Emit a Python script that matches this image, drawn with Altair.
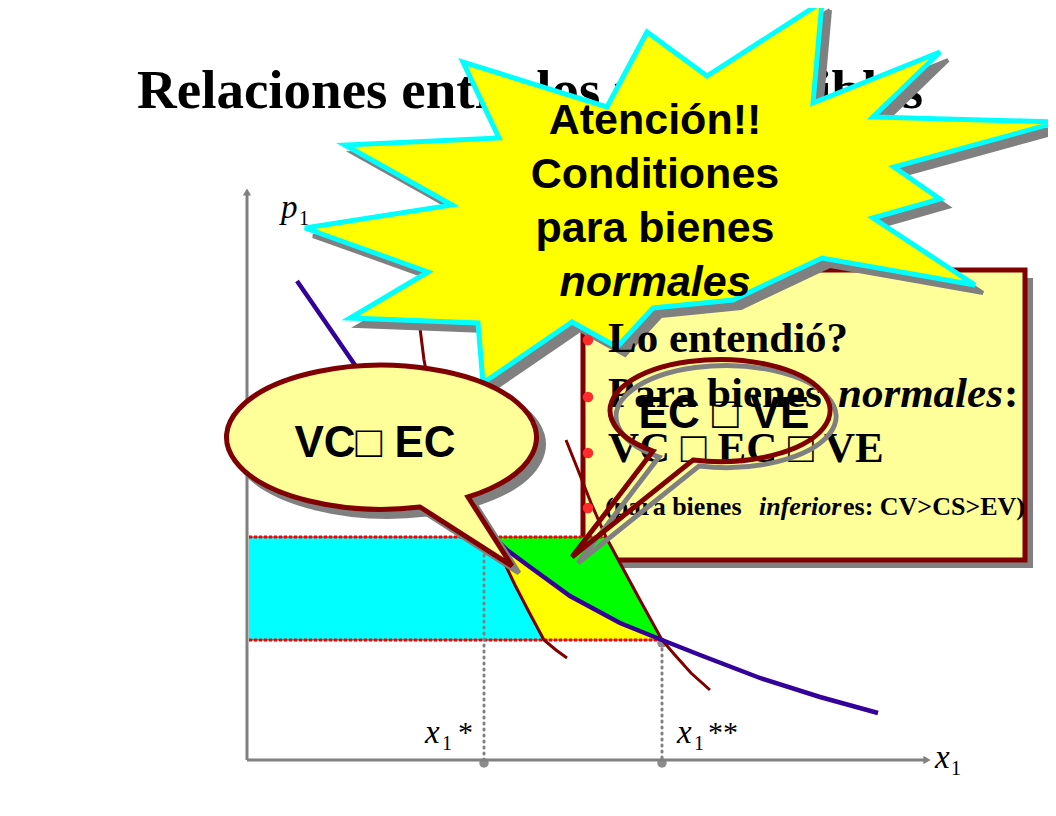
import altair as alt
import pandas as pd

# ---------------- data (diagram units = slide units) ----------------
TITLE = "Relaciones entre los tres medibles"

P_HIGH = 537          # initial price level
P_LOW = 640           # final price level
X1_STAR = 484         # x1*
X1_2STAR = 662        # x1**
AXIS_X0 = 247
AXIS_Y0 = 760
AXIS_TOP = 194
AXIS_RIGHT = 924

# ordinary demand curve
DEM_X = [297, 315, 335, 357, 392, 427, 462, 494, 507, 530, 570, 620, 662, 700, 760, 820, 878]
DEM_Y = [281, 307, 336, 368, 412, 456, 498, 537, 550, 567, 596, 623, 640, 655, 678, 697, 713]
# Hicksian demand at the initial utility
HA_X = [416, 419, 424, 432, 444, 459, 476, 492, 503, 515, 529, 544, 556, 567]
HA_Y = [290, 320, 360, 400, 440, 480, 512, 537, 560, 585, 612, 640, 650, 658]
# Hicksian demand at the final utility
HB_X = [566, 578, 591, 606, 620, 640, 662, 674, 691, 710]
HB_Y = [440, 470, 503, 537, 563, 600, 640, 654, 673, 690]

# starburst outline
STAR_X = [822, 813, 940, 873, 1058, 894, 940, 873, 975, 822, 733, 653, 617, 572, 483, 478, 350, 428, 305, 452, 345, 499, 463, 607, 647, 707]
STAR_Y = [2, 103, 52, 117, 122, 167, 199, 218, 285, 258, 300, 308, 347, 322, 383, 323, 318, 272, 228, 205, 145, 138, 62, 107, 32, 76]
STAR_LINES = ["Atención!!", "Conditiones", "para bienes", "normales"]
STAR_LINE_Y = [134, 188, 242, 296]
STAR_CX = 655

# text box
BOX = dict(x=583, x2=1025, y=270, y2=560)
BULLET_X = [588, 588, 588, 588]
BULLET_Y = [340, 397, 453, 508]
BOX_BIG_TEXT = ["Lo entendió?", "Para bienes", ":", "VC \u25a1 EC \u25a1 VE"]
BOX_BIG_X = [608, 608, 1004, 608]
BOX_BIG_Y = [352, 407, 407, 462]
BOX_BIG_ITAL = ["normales"]
BOX_BIG_ITAL_X = [838]
BOX_BIG_ITAL_Y = [407]
BOX_SMALL_TEXT = ["(para bienes", "es: CV>CS>EV)"]
BOX_SMALL_X = [605, 843]
BOX_SMALL_Y = [515, 515]
BOX_SMALL_ITAL = ["inferior"]
BOX_SMALL_ITAL_X = [759]
BOX_SMALL_ITAL_Y = [515]

# callouts
CALL1_C = (378, 440)
CALL1_TEXT = "VC\u25a1 EC"
CALL1_TXT_POS = (375, 457)
CALL2_C = (723, 411)
CALL2_TEXT = "EC \u25a1 VE"
CALL2_TXT_POS = (724, 428)

# axis labels: main glyph, subscript, stars
LBL_MAIN = ["p", "x", "x", "x"]
LBL_MAIN_X = [281, 935, 425, 677]
LBL_MAIN_Y = [218, 768, 743, 743]
LBL_SUB = ["1", "1", "1", "1"]
LBL_SUB_X = [299, 951, 442, 694]
LBL_SUB_Y = [225, 775, 750, 750]
LBL_STAR = ["*", "**"]
LBL_STAR_X = [458, 708]
LBL_STAR_Y = [742, 742]

# ---------------- helpers ----------------
XS = alt.Scale(domain=[8, 1048], nice=False, zero=False)
YS = alt.Scale(domain=[8, 800], nice=False, zero=False, reverse=True)
X = alt.X("x:Q", scale=XS, axis=None)
Y = alt.Y("y:Q", scale=YS, axis=None)

SERIF = "Liberation Serif"
SANS = "Liberation Sans"
MAROON = "#800000"
GRAY = "#808080"


def path_layer(xs, ys, close=False, dx=0, dy=0, **mk):
    xs = list(xs)
    ys = list(ys)
    if close:
        xs = xs + [xs[0]]
        ys = ys + [ys[0]]
    df = pd.DataFrame({"x": [v + dx for v in xs], "y": [v + dy for v in ys], "i": range(len(xs))})
    return alt.Chart(df).mark_line(**mk).encode(x=X, y=Y, order="i:Q")


def text_layer(xs, ys, texts, **mk):
    df = pd.DataFrame({"x": xs, "y": ys, "t": texts})
    base = dict(baseline="alphabetic", align="left", color="black")
    base.update(mk)
    return alt.Chart(df).mark_text(**base).encode(x=X, y=Y, text="t:N")


def sub_between(xs, ys, y0, y1):
    pts = [(a, b) for a, b in zip(xs, ys) if y0 <= b <= y1]
    return [p[0] for p in pts], [p[1] for p in pts]


layers = []

# box shadow + box
box_sh = pd.DataFrame({"x": [BOX["x"] + 8], "x2": [BOX["x2"] + 8], "y": [BOX["y"] + 8], "y2": [BOX["y2"] + 8]})
layers.append(alt.Chart(box_sh).mark_rect(fill=GRAY).encode(x=X, x2="x2:Q", y=Y, y2="y2:Q"))
box_df = pd.DataFrame({k: [v] for k, v in BOX.items()})
layers.append(alt.Chart(box_df).mark_rect(fill="#FFFF99", stroke=MAROON, strokeWidth=5)
              .encode(x=X, x2="x2:Q", y=Y, y2="y2:Q"))

# regions
ha_x, ha_y = sub_between(HA_X, HA_Y, P_HIGH, P_LOW)
dm_x, dm_y = sub_between(DEM_X, DEM_Y, P_HIGH, P_LOW)
hb_x, hb_y = sub_between(HB_X, HB_Y, P_HIGH, P_LOW)

cyan_x = [AXIS_X0 + 2] + ha_x + [AXIS_X0 + 2]
cyan_y = [P_HIGH] + ha_y + [P_LOW]
layers.append(path_layer(cyan_x, cyan_y, close=True, fill="#00FFFF", stroke=None, strokeWidth=0))

yel_x = dm_x + ha_x[::-1]
yel_y = dm_y + ha_y[::-1]
layers.append(path_layer(yel_x, yel_y, close=True, fill="#FFFF00", stroke=None, strokeWidth=0))

grn_x = hb_x + dm_x[::-1]
grn_y = hb_y + dm_y[::-1]
layers.append(path_layer(grn_x, grn_y, close=True, fill="#00FF00", stroke=None, strokeWidth=0))

# price lines (dotted red)
for py, xe in [(P_HIGH, hb_x[0]), (P_LOW, X1_2STAR)]:
    layers.append(path_layer([AXIS_X0 + 2, xe], [py, py], stroke="#990000", strokeWidth=1))
    layers.append(path_layer([AXIS_X0 + 2, xe], [py, py], stroke="#FF0000", strokeWidth=3, strokeDash=[3, 2]))

# gray dotted verticals and dots
layers.append(path_layer([X1_STAR, X1_STAR], [P_HIGH, AXIS_Y0 + 3], stroke=GRAY, strokeWidth=3,
                         strokeDash=[1, 5], strokeCap="round"))
layers.append(path_layer([X1_2STAR, X1_2STAR], [P_LOW + 3, AXIS_Y0 + 3], stroke=GRAY, strokeWidth=3,
                         strokeDash=[1, 5], strokeCap="round"))
dots = pd.DataFrame({"x": [X1_STAR, X1_2STAR, X1_2STAR], "y": [AXIS_Y0 + 3, AXIS_Y0 + 3, P_LOW + 3]})
layers.append(alt.Chart(dots).mark_circle(size=90, color="#8c8c8c", opacity=1).encode(x=X, y=Y))

# axes
layers.append(path_layer([AXIS_X0, AXIS_X0], [AXIS_Y0, AXIS_TOP], stroke=GRAY, strokeWidth=3))
layers.append(path_layer([AXIS_X0, AXIS_RIGHT], [AXIS_Y0, AXIS_Y0], stroke=GRAY, strokeWidth=3))
layers.append(alt.Chart(pd.DataFrame({"x": [AXIS_X0], "y": [AXIS_TOP - 2]}))
              .mark_point(shape="triangle-up", size=70, filled=True, color=GRAY, opacity=1).encode(x=X, y=Y))
layers.append(alt.Chart(pd.DataFrame({"x": [AXIS_RIGHT + 3], "y": [AXIS_Y0]}))
              .mark_point(shape="triangle-right", size=70, filled=True, color=GRAY, opacity=1).encode(x=X, y=Y))

# curves
layers.append(path_layer(HA_X, HA_Y, stroke=MAROON, strokeWidth=3))
layers.append(path_layer(HB_X, HB_Y, stroke=MAROON, strokeWidth=3))
layers.append(path_layer(DEM_X, DEM_Y, stroke="#330099", strokeWidth=4.5))

# axis labels
layers.append(text_layer(LBL_MAIN_X, LBL_MAIN_Y, LBL_MAIN, font=SERIF, fontSize=33, fontStyle="italic"))
layers.append(text_layer(LBL_SUB_X, LBL_SUB_Y, LBL_SUB, font=SERIF, fontSize=20))
layers.append(text_layer(LBL_STAR_X, LBL_STAR_Y, LBL_STAR, font=SERIF, fontSize=30))

# title
layers.append(text_layer([137], [108], [TITLE], font=SERIF, fontSize=55, fontWeight="bold"))

# starburst
layers.append(path_layer(STAR_X, STAR_Y, close=True, dx=8, dy=8, fill=GRAY, stroke=GRAY, strokeWidth=4,
                         strokeJoin="miter", clip=True))
layers.append(path_layer(STAR_X, STAR_Y, close=True, fill="#FFFF00", stroke="#00FFFF", strokeWidth=5,
                         strokeJoin="miter", clip=True))

# box text + bullets
layers.append(alt.Chart(pd.DataFrame({"x": BULLET_X, "y": BULLET_Y}))
              .mark_circle(size=110, color="#FF2B2B", opacity=1).encode(x=X, y=Y))
layers.append(text_layer(BOX_BIG_X, BOX_BIG_Y, BOX_BIG_TEXT, font=SERIF, fontSize=43, fontWeight="bold"))
layers.append(text_layer(BOX_BIG_ITAL_X, BOX_BIG_ITAL_Y, BOX_BIG_ITAL, font=SERIF, fontSize=43,
                         fontWeight="bold", fontStyle="italic"))
layers.append(text_layer(BOX_SMALL_X, BOX_SMALL_Y, BOX_SMALL_TEXT, font=SERIF, fontSize=26, fontWeight="bold"))
layers.append(text_layer(BOX_SMALL_ITAL_X, BOX_SMALL_ITAL_Y, BOX_SMALL_ITAL, font=SERIF, fontSize=26,
                         fontWeight="bold", fontStyle="italic"))

# star text
layers.append(text_layer([STAR_CX] * 3, STAR_LINE_Y[:3], STAR_LINES[:3], font=SANS, fontSize=43,
                         fontWeight="bold", align="center"))
layers.append(text_layer([STAR_CX], STAR_LINE_Y[3:], STAR_LINES[3:], font=SANS, fontSize=43,
                         fontWeight="bold", fontStyle="italic", align="center"))

# callout 1 (filled ellipse with tail)
CALL1_SHAPE = "M 90 57 A 155 72 0 1 0 42 67 L 134 126 Z"
c1 = pd.DataFrame({"x": [CALL1_C[0]], "y": [CALL1_C[1]]})
c1s = pd.DataFrame({"x": [CALL1_C[0] + 7], "y": [CALL1_C[1] + 7]})
layers.append(alt.Chart(c1s).mark_point(shape=CALL1_SHAPE, size=4, fill=GRAY, stroke=GRAY, strokeWidth=5,
                                        opacity=1).encode(x=X, y=Y))
layers.append(alt.Chart(c1).mark_point(shape=CALL1_SHAPE, size=4, fill="#FFFF99", stroke=MAROON, strokeWidth=5,
                                       opacity=1, strokeJoin="miter").encode(x=X, y=Y))
layers.append(text_layer([CALL1_TXT_POS[0]], [CALL1_TXT_POS[1]], [CALL1_TEXT], font=SANS, fontSize=44,
                         fontWeight="bold", align="center"))

# callout 2 (outline only)
CALL2_SHAPE = "M -30 49 A 110 51 0 1 0 -70 40 L -151 146 Z"
c2 = pd.DataFrame({"x": [CALL2_C[0]], "y": [CALL2_C[1]]})
c2s = pd.DataFrame({"x": [CALL2_C[0] + 6], "y": [CALL2_C[1] + 6]})
layers.append(alt.Chart(c2s).mark_point(shape=CALL2_SHAPE, size=4, fill="transparent", stroke=GRAY,
                                        strokeWidth=5, opacity=1).encode(x=X, y=Y))
layers.append(alt.Chart(c2).mark_point(shape=CALL2_SHAPE, size=4, fill="transparent", stroke=MAROON,
                                       strokeWidth=5, opacity=1, strokeJoin="miter").encode(x=X, y=Y))
layers.append(text_layer([CALL2_TXT_POS[0]], [CALL2_TXT_POS[1]], [CALL2_TEXT], font=SANS, fontSize=44,
                         fontWeight="bold", align="center"))

chart = alt.layer(*layers).properties(
    width=1040, height=792, padding=0, autosize=alt.AutoSizeParams(type="none"), background="white"
).configure_view(stroke=None)

chart.save("out.html", embed_options={"renderer": "svg", "actions": False})
